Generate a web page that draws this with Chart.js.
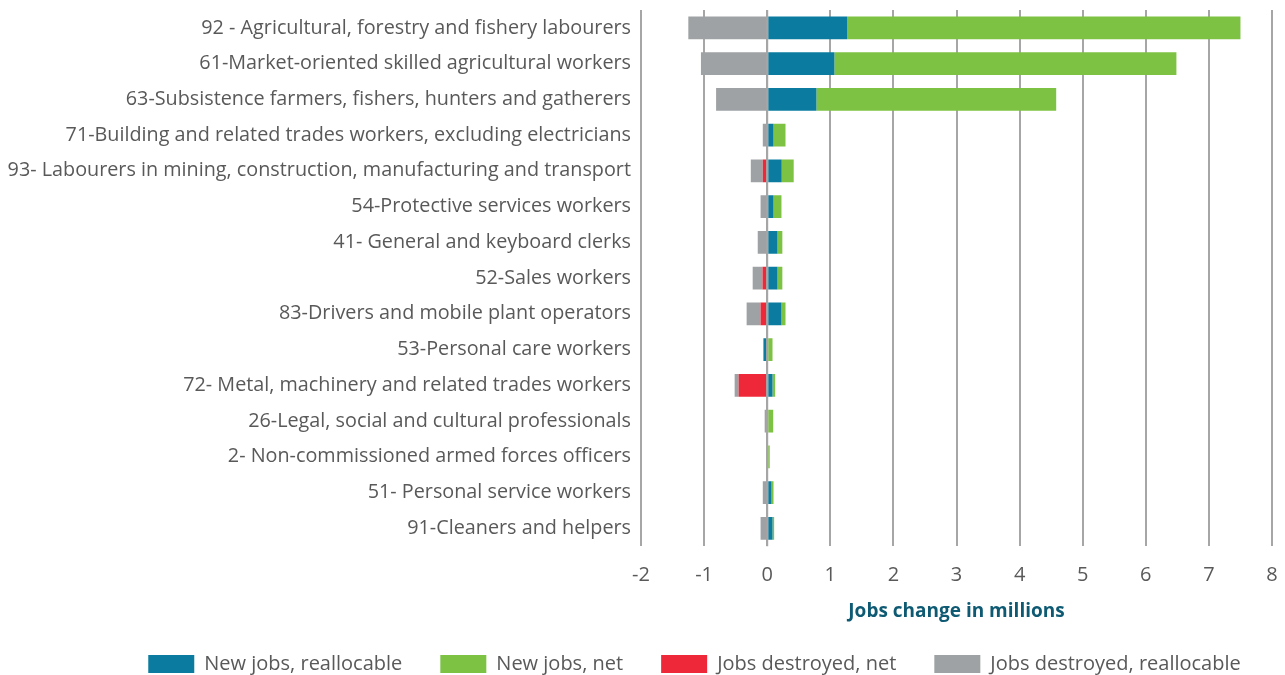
<!DOCTYPE html>
<html>
<head>
<meta charset="utf-8">
<title>Jobs change by occupation</title>
<script src="https://cdn.jsdelivr.net/npm/chart.js@4/dist/chart.umd.min.js"></script>
<style>
  html, body { margin: 0; padding: 0; background: #fff; }
  #wrap { width: 1285px; height: 675px; position: relative; }
</style>
</head>
<body>
<div id="wrap"><canvas id="chart"></canvas></div>
<script>
// occupations, top to bottom
const occupations = [
    '92 - Agricultural, forestry and fishery labourers',
    '61-Market-oriented skilled agricultural workers',
    '63-Subsistence farmers, fishers, hunters and gatherers',
    '71-Building and related trades workers, excluding electricians',
    '93- Labourers in mining, construction, manufacturing and transport',
    '54-Protective services workers',
    '41- General and keyboard clerks',
    '52-Sales workers',
    '83-Drivers and mobile plant operators',
    '53-Personal care workers',
    '72- Metal, machinery and related trades workers',
    '26-Legal, social and cultural professionals',
    '2- Non-commissioned armed forces officers',
    '51- Personal service workers',
    '91-Cleaners and helpers'
];

// millions of jobs
const newReallocable = [1.27, 1.065, 0.78, 0.10, 0.23, 0.10, 0.163, 0.163, 0.226, -0.06, 0.084, 0.0, 0.0, 0.068, 0.084];
const newNet = [6.23, 5.42, 3.80, 0.19, 0.19, 0.126, 0.077, 0.077, 0.064, 0.084, 0.042, 0.095, 0.04, 0.032, 0.026];
const destroyedNet = [0, 0, 0, 0, -0.07, 0, 0, -0.074, -0.105, 0, -0.453, 0, 0, 0, -0.02];
const destroyedReallocable = [-1.25, -1.05, -0.81, -0.07, -0.19, -0.105, -0.15, -0.156, -0.221, 0, -0.063, -0.04, 0, -0.07, -0.085];

const xTicks = [-2, -1, 0, 1, 2, 3, 4, 5, 6, 7, 8];

const FONT = '"Open Sans", "Noto Sans", sans-serif';
const TEXT = '#595959';

// zero line sits on top of the bars
const zeroLine = {
    id: 'zeroLine',
    afterDatasetsDraw(chart) {
        const x = chart.scales.x.getPixelForValue(0);
        const area = chart.chartArea;
        const ctx = chart.ctx;
        ctx.save();
        ctx.strokeStyle = '#a6a6a6';
        ctx.lineWidth = 2;
        ctx.beginPath();
        ctx.moveTo(x, area.top);
        ctx.lineTo(x, area.bottom);
        ctx.stroke();
        ctx.restore();
    }
};

// legend in the original is centred a bit right of the page centre
const legendShift = {
    id: 'legendShift',
    afterLayout(chart) {
        if (chart.legend) {
            chart.legend.left += 100;
        }
    }
};

new Chart(document.getElementById('chart'), {
    type: 'bar',
    data: {
        labels: occupations,
        datasets: [
            { label: 'New jobs, reallocable', data: newReallocable, backgroundColor: '#0b7c9f' },
            { label: 'New jobs, net', data: newNet, backgroundColor: '#7dc243' },
            { label: 'Jobs destroyed, net', data: destroyedNet, backgroundColor: '#ee2839' },
            { label: 'Jobs destroyed, reallocable', data: destroyedReallocable, backgroundColor: '#9ea2a4' }
        ]
    },
    options: {
        indexAxis: 'y',
        responsive: true,
        maintainAspectRatio: false,
        animation: false,
        layout: { padding: { top: 0, right: 0, left: 4, bottom: -9 } },
        datasets: {
            bar: { barPercentage: 0.64, categoryPercentage: 1.0, borderWidth: 0 }
        },
        scales: {
            x: {
                stacked: true,
                min: -2,
                max: 8,
                afterBuildTicks(scale) {
                    scale.ticks = xTicks.map(v => ({ value: v }));
                },
                afterFit(scale) {
                    scale.paddingRight = 13;
                },
                grid: { color: '#a6a6a6', lineWidth: 2, drawTicks: false },
                border: { display: false },
                ticks: {
                    color: TEXT,
                    padding: 17,
                    font: { family: FONT, size: 20 }
                },
                title: {
                    display: true,
                    text: 'Jobs change in millions',
                    color: '#0f5a73',
                    padding: { top: -4, bottom: -7 },
                    font: { family: FONT, size: 19, weight: 'bold' }
                }
            },
            y: {
                stacked: true,
                grid: { display: false },
                border: { display: false },
                afterFit(scale) {
                    scale.width = 637;
                    scale.paddingTop = 10;
                },
                ticks: {
                    color: TEXT,
                    padding: 2,
                    autoSkip: false,
                    font: { family: FONT, size: 19.8 }
                }
            }
        },
        plugins: {
            legend: {
                position: 'bottom',
                labels: {
                    boxWidth: 46,
                    boxHeight: 18,
                    padding: 38,
                    color: TEXT,
                    font: { family: FONT, size: 20 }
                }
            },
            tooltip: { enabled: false }
        }
    },
    plugins: [zeroLine, legendShift]
});
</script>
</body>
</html>
